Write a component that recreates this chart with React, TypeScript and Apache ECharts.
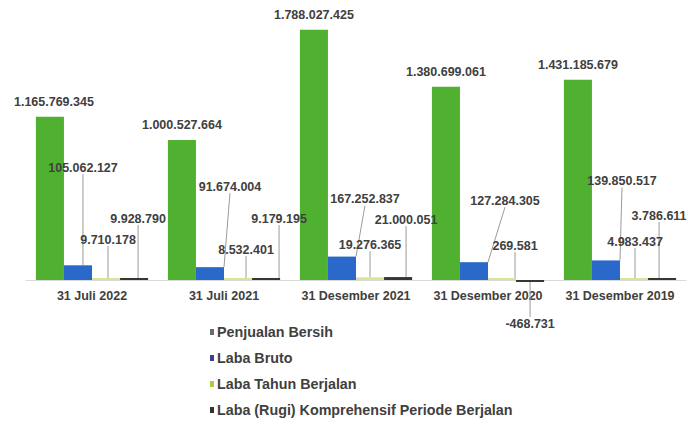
import React, { useEffect, useRef } from "react";
import * as echarts from "echarts";

const categories = ["31 Juli 2022", "31 Juli 2021", "31 Desember 2021", "31 Desember 2020", "31 Desember 2019"];
const seriesNames = [
  "Penjualan Bersih",
  "Laba Bruto",
  "Laba Tahun Berjalan",
  "Laba (Rugi) Komprehensif Periode Berjalan",
];
const penjualanBersih = [1165769345, 1000527664, 1788027425, 1380699061, 1431185679];
const labaBruto = [105062127, 91674004, 167252837, 127284305, 139850517];
const labaTahunBerjalan = [9710178, 8532401, 19276365, 269581, 4983437];
const labaKomprehensif = [9928790, 9179195, 21000051, -468731, 3786611];

const barColors = ["#50b030", "#2a68c9", "#dbe39a", "#353830"];
const legendColors = ["#6b6b6b", "#3d3f8c", "#a9cf3a", "#333333"];
const minHeights = [0, 0, 2, 2];

// label callout offsets (dx, dy) relative to the default label position
const labelOffsets: number[][][] = [
  [[4, -3], [0, -3], [0, -3], [0, -3], [0, -3]],
  [[5, -86], [20, -69], [23, -46], [31, -50], [16, -68]],
  [[2, -27], [8, -17], [0, -21], [13, -21], [1, -25]],
  [[4, -48], [13, -48], [8, -46], [0, 30], [-3, -51]],
];

const fmt = (v: number) => {
  const s = Math.abs(v).toString().replace(/\B(?=(\d{3})+(?!\d))/g, ".");
  return (v < 0 ? "-" : "") + s;
};

export default function App() {
  const ref = useRef<HTMLDivElement>(null);
  useEffect(() => {
    if (!ref.current) return;
    const chart = echarts.init(ref.current, undefined, { renderer: "svg" });
    const all = [penjualanBersih, labaBruto, labaTahunBerjalan, labaKomprehensif];
    const labelFont = {
      fontFamily: "Liberation Sans",
      fontWeight: "bold" as const,
      fontSize: 12.5,
      color: "#404040",
    };
    chart.setOption({
      animation: false,
      backgroundColor: "#ffffff",
      grid: { left: 26, right: 2, top: 0, height: 280 },
      xAxis: {
        type: "category",
        data: categories,
        axisLine: { show: true, lineStyle: { color: "#d9d9d9", width: 1 } },
        axisTick: { show: false },
        axisLabel: { ...labelFont, margin: 9, interval: 0 },
        z: 1,
      },
      yAxis: {
        type: "value",
        min: 0,
        max: 2000000000,
        show: false,
        splitLine: { show: false },
      },
      legend: {
        orient: "vertical",
        left: 205,
        top: 319,
        itemWidth: 4,
        itemHeight: 6,
        itemGap: 10,
        icon: "rect",
        textStyle: { ...labelFont, fontSize: 14.3, padding: [0, 0, 0, -2], lineHeight: 16 },
        data: seriesNames.map((n, i) => ({ name: n, itemStyle: { color: legendColors[i] } })),
      },
      series: all.map((vals, si) => ({
        name: seriesNames[si],
        type: "bar",
        barGap: "0%",
        barCategoryGap: "15%",
        clip: false,
        barMinHeight: minHeights[si],
        itemStyle: { color: barColors[si] },
        data: vals.map((v) =>
          v < 0 ? { value: v, label: { position: "bottom" } } : v
        ),
        label: {
          show: true,
          position: "top",
          ...labelFont,
          formatter: (p: any) => fmt(p.value),
        },
        labelLine: {
          show: si > 0,
          lineStyle: { color: "#9a9a9a", width: 1 },
        },
        labelLayout: (p: any) => {
          const o = labelOffsets[si][p.dataIndex];
          return { dx: o[0], dy: o[1] };
        },
      })),
    });
    return () => chart.dispose();
  }, []);
  return <div ref={ref} style={{ width: 688, height: 427, position: "absolute", left: 0, top: 0 }} />;
}
